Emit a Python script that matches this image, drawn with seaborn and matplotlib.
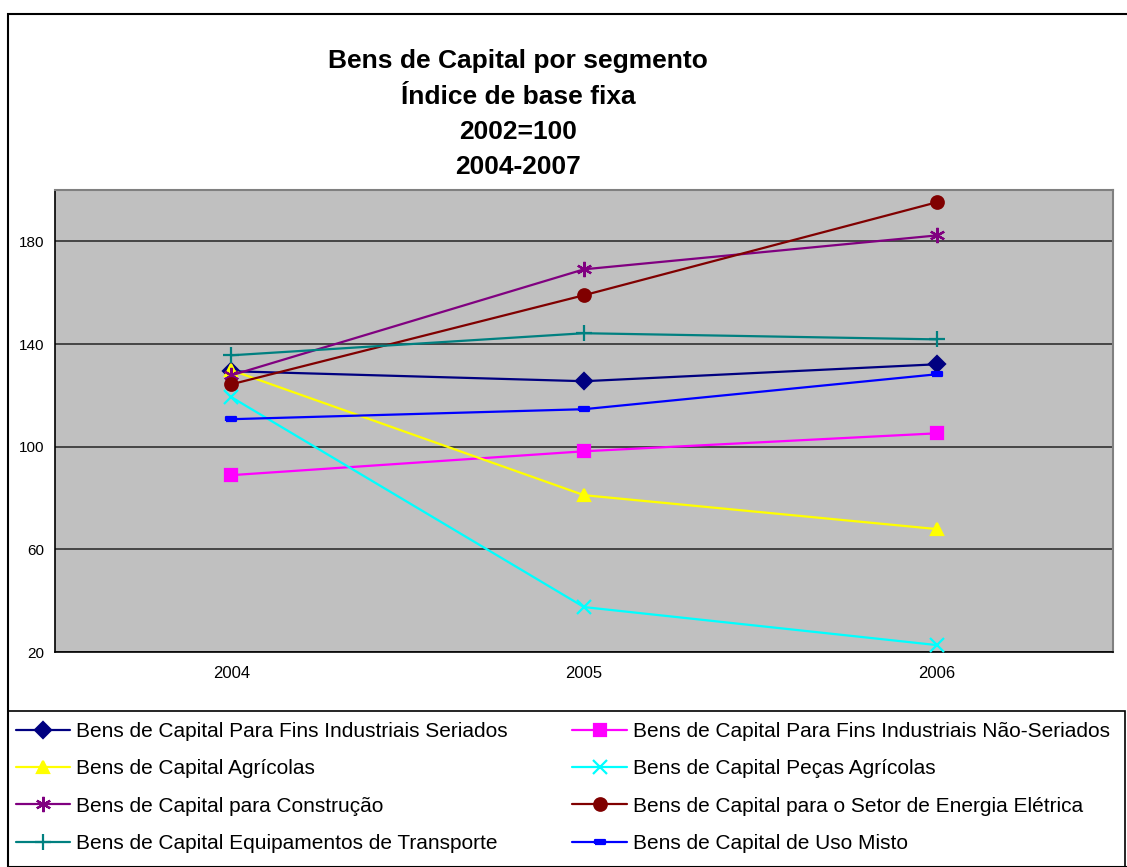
import numpy as np
import pandas as pd
import matplotlib
matplotlib.use("Agg")
import matplotlib.pyplot as plt
import seaborn as sns
from matplotlib.patches import Rectangle

#---------Data-----------
anos = ["2004", "2005", "2006"]

seriados = [129.4, 125.5, 132.1]
nao_seriados = [88.9, 98.2, 105.2]
agricolas = [129.8, 81.1, 67.9]
pecas_agricolas = [119.3, 37.5, 22.7]
construcao = [127.8, 169.1, 182.3]
energia = [124.3, 159.0, 195.2]
transporte = [135.6, 144.2, 141.8]
uso_misto = [110.7, 114.6, 128.2]

nomes = [
    "Bens de Capital Para Fins Industriais Seriados",
    "Bens de Capital Para Fins Industriais Não-Seriados",
    "Bens de Capital Agrícolas",
    "Bens de Capital Peças Agrícolas",
    "Bens de Capital para Construção",
    "Bens de Capital para o Setor de Energia Elétrica",
    "Bens de Capital Equipamentos de Transporte",
    "Bens de Capital de Uso Misto",
]
valores = [seriados, nao_seriados, agricolas, pecas_agricolas,
           construcao, energia, transporte, uso_misto]

cores = ["#000080", "#FF00FF", "#FFFF00", "#00FFFF",
         "#800080", "#800000", "#008080", "#0000FF"]
traco = [(-1, -0.45), (1, -0.45), (1, 0.45), (-1, 0.45), (-1, -0.45)]
marcadores = ["D", "s", "^", "x", (6, 2, 0), "o", "+", traco]
tamanhos = [8, 8, 9, 10, 11, 9, 11, 7]

#---------Long form-----------
df = pd.DataFrame({
    "serie": np.repeat(nomes, len(anos)),
    "pos": np.tile(np.arange(len(anos)), len(nomes)),
    "valor": np.concatenate(valores),
})

#---------Plot-----------
sns.set_style("white")
plt.rcParams["font.family"] = ["Liberation Sans", "DejaVu Sans"]
plt.rcParams["text.color"] = "black"
plt.rcParams["xtick.color"] = "black"
plt.rcParams["ytick.color"] = "black"

fig = plt.figure(figsize=(11.27, 8.67), dpi=100)
ax = fig.add_axes([55 / 1127, 1 - 652 / 867, (1113 - 55) / 1127, (652 - 190) / 867])
ax.set_facecolor("#C0C0C0")

for nome, cor, mk, ms in zip(nomes, cores, marcadores, tamanhos):
    sns.lineplot(data=df[df["serie"] == nome], x="pos", y="valor",
                 color=cor, marker=mk, markersize=ms,
                 markeredgecolor=cor, markerfacecolor=cor,
                 markeredgewidth=1.6, linewidth=1.6,
                 label=nome, ax=ax, zorder=3)

ax.set_xlim(-0.5, len(anos) - 0.5)
ax.set_ylim(20, 200)
ax.set_yticks([20, 60, 100, 140, 180])
ax.set_xticks(range(len(anos)))
ax.set_xticklabels(anos)
ax.set_xticks(np.arange(0.5, len(anos), 1.0), minor=True)
ax.tick_params(axis="x", which="major", length=0, labelsize=12, pad=10)
ax.tick_params(axis="x", which="minor", length=4, width=1, color="black", direction="out")
ax.tick_params(axis="y", length=4, width=1, color="black", direction="out", labelsize=11, pad=4)
ax.grid(axis="y", color="#303030", linewidth=1.2)
ax.set_axisbelow(True)
ax.set_xlabel("")
ax.set_ylabel("")
for s in ["top", "right"]:
    ax.spines[s].set_color("#808080")
    ax.spines[s].set_linewidth(1.5)
for s in ["left", "bottom"]:
    ax.spines[s].set_color("black")
    ax.spines[s].set_linewidth(1.2)

#---------Title-----------
titulo = ["Bens de Capital por segmento", "Índice de base fixa", "2002=100", "2004-2007"]
for i, linha in enumerate(titulo):
    fig.text(518 / 1127, 1 - (61 + i * 35.5) / 867, linha, ha="center", va="center",
             fontsize=19, fontweight="bold")

#---------Legend-----------
handles, labels = ax.get_legend_handles_labels()
ax.get_legend().remove()
ordem = [0, 2, 4, 6, 1, 3, 5, 7]
fig.legend([handles[i] for i in ordem], [labels[i] for i in ordem],
           loc="upper left", bbox_to_anchor=(16 / 1127, 1 - 722 / 867),
           ncol=2, frameon=False, fontsize=15, borderpad=0, borderaxespad=0,
           handlelength=2.6, handletextpad=0.29, columnspacing=3.1,
           labelspacing=0.88)

#---------Borders-----------
fig.patches.append(Rectangle((8 / 1127, 0), 1.1, 1 - 14 / 867, transform=fig.transFigure,
                             fill=False, edgecolor="black", linewidth=1.5))
fig.patches.append(Rectangle((8 / 1127, -0.1), (1125 - 8) / 1127, 0.1 + 1 - 711 / 867,
                             transform=fig.transFigure, fill=False,
                             edgecolor="black", linewidth=1.2))

fig.savefig("out.png", dpi=100)
